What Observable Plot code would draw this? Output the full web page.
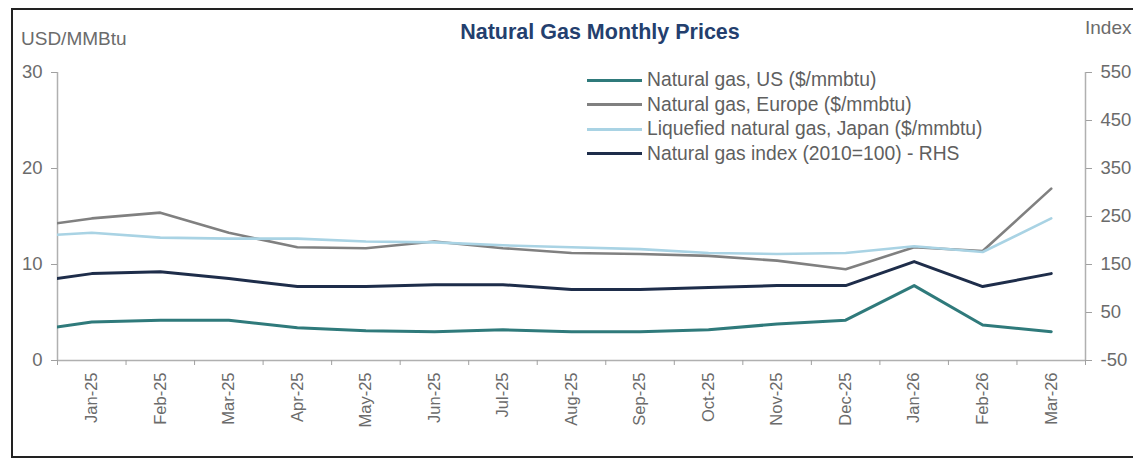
<!DOCTYPE html>
<html>
<head>
<meta charset="utf-8">
<script src="https://cdn.jsdelivr.net/npm/d3@7"></script>
<script src="https://cdn.jsdelivr.net/npm/@observablehq/plot@0.6"></script>
<style>
  body { margin: 0; background: #fff; }
  #wrap { position: relative; width: 1133px; height: 458px; overflow: hidden; font-family: "Liberation Sans", Arial, sans-serif; }
  #frame { position: absolute; left: 11px; top: 8px; width: 1140px; height: 446px; border-left: 2.5px solid #222; border-top: 2.5px solid #222; border-bottom: 2.5px solid #222; box-sizing: content-box; }
  #title { position: absolute; left: 0; width: 1200px; top: 20px; text-align: center; font-weight: bold; font-size: 21.5px; color: #243f6e; }
  .unit { position: absolute; font-size: 19px; color: #6b6b6b; }
  #legend { position: absolute; left: 587px; top: 68px; }
  .row { display: flex; align-items: center; height: 24.5px; font-size: 19.3px; color: #5f5f5f; white-space: nowrap; }
  .sw { width: 55px; height: 3px; margin-right: 5px; }
  #chart { position: absolute; left: 0; top: 0; }
</style>
</head>
<body>
<div id="wrap">
  <div id="chart"></div>
  <div id="frame"></div>
  <div id="title">Natural Gas Monthly Prices</div>
  <div class="unit" style="left:21px; top:28px;">USD/MMBtu</div>
  <div class="unit" style="left:1085px; top:17px;">Index</div>
  <div id="legend"></div>
</div>
<script>
// Months (Dec-24 is the partially visible leading point, clipped at the axis)
const months = ["Dec-24","Jan-25","Feb-25","Mar-25","Apr-25","May-25","Jun-25","Jul-25","Aug-25","Sep-25","Oct-25","Nov-25","Dec-25","Jan-26","Feb-26","Mar-26"];
const usGas     = [3.0, 4.0, 4.2, 4.2, 3.4, 3.1, 3.0, 3.2, 3.0, 3.0, 3.2, 3.8, 4.2, 7.8, 3.7, 3.0];
const europeGas = [13.8, 14.8, 15.4, 13.3, 11.8, 11.7, 12.4, 11.7, 11.2, 11.1, 10.9, 10.4, 9.5, 11.8, 11.4, 17.9];
const japanLng  = [12.9, 13.3, 12.8, 12.7, 12.7, 12.4, 12.3, 12.0, 11.8, 11.6, 11.2, 11.1, 11.2, 11.9, 11.3, 14.8];
const gasIndex  = [111, 131, 135, 121, 104, 104, 108, 108, 98, 98, 102, 106, 106, 156, 104, 131];

const leftTicks = [0, 10, 20, 30];
const rightTicks = [-50, 50, 150, 250, 350, 450, 550];

const seriesNames = ["Natural gas, US ($/mmbtu)", "Natural gas, Europe ($/mmbtu)", "Liquefied natural gas, Japan ($/mmbtu)", "Natural gas index (2010=100) - RHS"];
const seriesColors = ["#2f7a7b", "#808080", "#a9d3e4", "#1e2d4a"];
const seriesWidths = [3, 2.6, 2.6, 3];

// right axis (-50..550) mapped onto left axis (0..30)
const toLeft = v => (v + 50) / 20;

const rows = months.map((m, i) => ({
  i, m,
  us: usGas[i], eu: europeGas[i], jp: japanLng[i], idx: toLeft(gasIndex[i])
}));

const keys = ["us", "eu", "jp", "idx"];

const plot = Plot.plot({
  width: 1133,
  height: 458,
  marginLeft: 57,
  marginRight: 48,
  marginTop: 72,
  marginBottom: 98,
  style: { fontFamily: "Liberation Sans, Arial, sans-serif", fontSize: "18.5px", color: "#5f5f5f", background: "transparent" },
  x: { domain: [0.5, 15.5], axis: null },
  y: { domain: [0, 30], axis: null },
  marks: [
    Plot.ruleX([0.5], { stroke: "#b0b0b0", strokeWidth: 1.5 }),
    Plot.ruleX([15.5], { stroke: "#b0b0b0", strokeWidth: 1.5 }),
    Plot.ruleY([0], { stroke: "#b0b0b0", strokeWidth: 1.5 }),
    Plot.axisY({ anchor: "left", ticks: leftTicks, tickSize: 6, tickPadding: 9, stroke: "#a0a0a0", fill: "#6b6b6b", label: null }),
    Plot.axisY({ anchor: "right", ticks: rightTicks.map(toLeft), tickFormat: d => String(Math.round(d * 20 - 50)), tickSize: 6, tickPadding: 9, stroke: "#a0a0a0", fill: "#6b6b6b", label: null }),
    Plot.axisX({ ticks: d3.range(0.5, 15.6, 1), tickSize: 5, tickFormat: () => "", stroke: "#a0a0a0", label: null }),
    Plot.axisX({ ticks: d3.range(1, 16), tickSize: 0, tickPadding: 12, tickRotate: -90, tickFormat: i => months[i], fontSize: 16.5, fill: "#6b6b6b", label: null }),
    ...keys.map((k, j) => Plot.lineY(rows, { x: "i", y: k, stroke: seriesColors[j], strokeWidth: seriesWidths[j], clip: true }))
  ]
});
document.getElementById("chart").appendChild(plot);

const legend = document.getElementById("legend");
seriesNames.forEach((name, j) => {
  const row = document.createElement("div");
  row.className = "row";
  const sw = document.createElement("div");
  sw.className = "sw";
  sw.style.background = seriesColors[j];
  sw.style.height = seriesWidths[j] + "px";
  const t = document.createElement("span");
  t.textContent = name;
  row.appendChild(sw);
  row.appendChild(t);
  legend.appendChild(row);
});
</script>
</body>
</html>
